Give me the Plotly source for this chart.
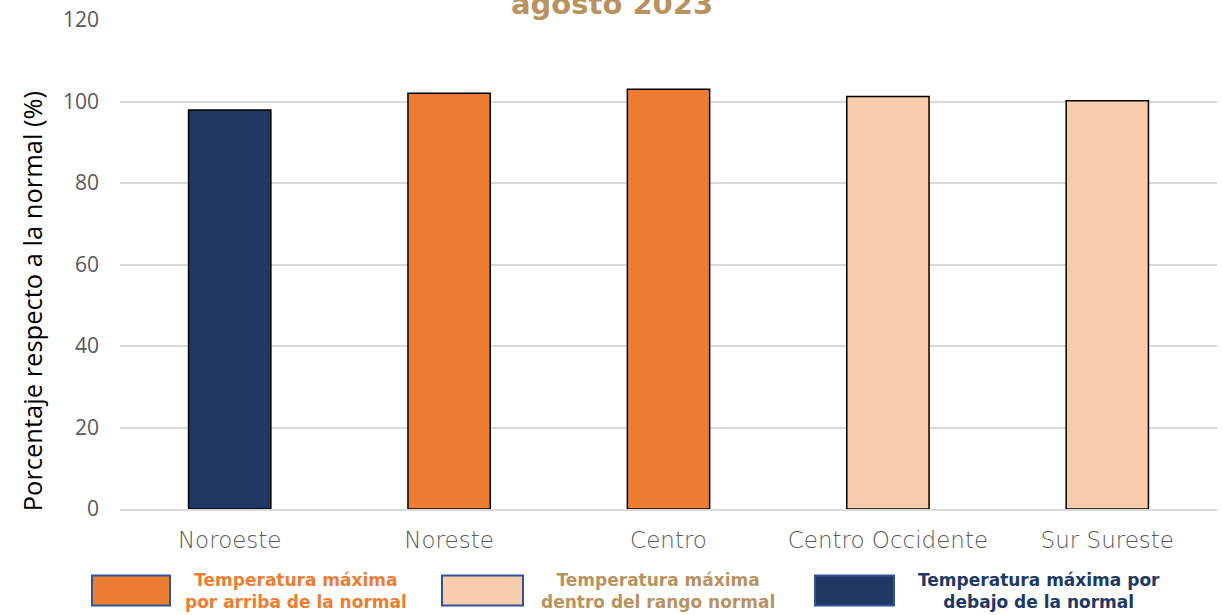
import plotly.graph_objects as go

categories = ["Noroeste", "Noreste", "Centro", "Centro Occidente", "Sur Sureste"]
values = [97.9, 102.0, 103.0, 101.2, 100.2]
classes = ["debajo", "arriba", "arriba", "dentro", "dentro"]

class_colors = {"arriba": "#ED7D31", "dentro": "#F8CBAD", "debajo": "#203864"}
legend_labels = {
    "arriba": "Temperatura máxima<br>por arriba de la normal",
    "dentro": "Temperatura máxima<br>dentro del rango normal",
    "debajo": "Temperatura máxima por<br>debajo de la normal",
}
legend_text_colors = {"arriba": "#ED7D31", "dentro": "#B8925F", "debajo": "#203864"}
y_ticks = [0, 20, 40, 60, 80, 100, 120]
title_text = "agosto 2023"
y_title = "Porcentaje respecto a la normal (%)"

W, H = 1222, 615
L, R, T, B = 120, 5, 17, 106
pw, ph = W - L - R, H - T - B


def px(x):
    return (x - L) / pw


def py(y):
    return (H - B - y) / ph


fig = go.Figure()
fig.add_trace(go.Bar(
    x=categories, y=values,
    marker=dict(color=[class_colors[c] for c in classes],
                line=dict(color="#000000", width=1.5)),
    width=0.375, showlegend=False, hoverinfo="skip",
))

shapes = []
annotations = []
legend_layout = [("arriba", 92, 170, 296), ("dentro", 442, 523, 658), ("debajo", 815, 894, 1039)]
for key, x0, x1, xt in legend_layout:
    shapes.append(dict(type="rect", xref="paper", yref="paper",
                       x0=px(x0), x1=px(x1), y0=py(606), y1=py(576),
                       fillcolor=class_colors[key],
                       line=dict(color="#2F5597", width=2)))
    annotations.append(dict(xref="paper", yref="paper", x=px(xt), y=py(592),
                            text="<b>" + legend_labels[key] + "</b>", showarrow=False,
                            xanchor="center", yanchor="middle", align="center",
                            font=dict(family="DejaVu Sans", size=17, color=legend_text_colors[key])))

annotations.append(dict(xref="paper", yref="paper", x=px(612), y=py(1),
                        text="<b>" + title_text + "</b>", showarrow=False,
                        xanchor="center", yanchor="middle",
                        font=dict(family="DejaVu Sans", size=29, color="#B8925F")))

annotations.append(dict(xref="paper", yref="paper", x=px(32), y=py(300),
                        text=y_title, showarrow=False, textangle=-90,
                        xanchor="center", yanchor="middle",
                        font=dict(family="Open Sans", size=25.5, color="#000000")))

fig.update_layout(
    width=W, height=H,
    margin=dict(l=L, r=R, t=T, b=B),
    plot_bgcolor="white", paper_bgcolor="white",
    bargap=0.625,
    shapes=shapes, annotations=annotations,
    xaxis=dict(showgrid=False, showline=True, linecolor="#d9d9d9", linewidth=1.5,
               ticks="", ticklabelstandoff=10, fixedrange=True,
               tickfont=dict(family="DejaVu Sans", size=23, color="#595959", weight=300)),
    yaxis=dict(range=[0, 120], tickvals=y_ticks, showgrid=True, gridcolor="#d9d9d9",
               gridwidth=1.5, zeroline=False, ticks="", ticklabelstandoff=20, fixedrange=True,
               tickfont=dict(family="Open Sans", size=21, color="#595959")),
)

fig.write_html("out.html", config={"displayModeBar": False},
               post_script="document.body.style.margin='0';")
